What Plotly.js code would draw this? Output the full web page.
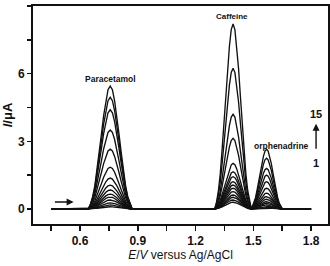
<!DOCTYPE html>
<html><head><meta charset="utf-8">
<script src="https://cdn.plot.ly/plotly-3.0.1.min.js"></script>
<style>html,body{margin:0;padding:0;background:#fff}#chart{width:330px;height:266px}</style>
</head><body><div id="chart"></div>
<script>
// Peak heights (µA) for scans 1..15
const paracetamol = [0.10,0.18,0.27,0.40,0.53,0.66,0.84,1.06,1.37,1.85,2.65,3.50,4.40,4.95,5.45];
const caffeine    = [0.30,0.40,0.52,0.62,0.77,0.92,1.06,1.21,1.43,1.65,2.02,3.13,4.20,6.24,8.20];
const orphenadrine= [0.04,0.08,0.12,0.18,0.25,0.32,0.43,0.55,0.70,0.92,1.21,1.50,1.80,2.25,2.65];
// peak positions (V) and half base widths (V)
const peakNames   = ["Paracetamol","Caffeine","orphenadrine"];
const peakCenters = [0.757, 1.395, 1.569];
const peakHalfW   = [0.114, 0.095, 0.082];
// normalised peak profile
const profOffsets = [-1,-0.9,-0.8,-0.7,-0.6,-0.5,-0.4,-0.3,-0.2,-0.1,0,0.1,0.2,0.3,0.4,0.5,0.6,0.7,0.8,0.9,1];
const profLevels  = [0,0.04,0.10,0.19,0.32,0.46,0.61,0.76,0.88,0.97,1,0.97,0.88,0.76,0.61,0.46,0.32,0.19,0.10,0.04,0];
const scanStart = 0.45, scanEnd = 1.80;
const xTicks = [0.6,0.9,1.2,1.5,1.8];
const yTicks = [0,3,6,9];

const series = [paracetamol, caffeine, orphenadrine];
const traces = [];
for (let i = 0; i < 15; i++) {
  const xs = [scanStart], ys = [0];
  for (let p = 0; p < 3; p++) {
    for (let k = 0; k < profOffsets.length; k++) {
      xs.push(peakCenters[p] + profOffsets[k]*peakHalfW[p]);
      ys.push(series[p][i]*profLevels[k]);
    }
  }
  xs.push(scanEnd); ys.push(0);
  traces.push({x: xs, y: ys, mode: 'lines', line: {color: '#111', width: 1.35}, hoverinfo: 'skip'});
}

const F = 'Liberation Sans, Arial, sans-serif';
const layout = {
  width: 330, height: 266, showlegend: false,
  margin: {l: 33, r: 2, t: 6, b: 42},
  paper_bgcolor: '#fff', plot_bgcolor: '#fff',
  xaxis: {range: [0.356, 1.888], tickvals: xTicks, ticktext: xTicks.map(v => v.toFixed(1)),
    ticks: 'outside', ticklen: 5, tickwidth: 1.5, tickcolor: '#111',
    minor: {tickvals: [0.45,0.75,1.05,1.35,1.65], ticks: 'outside', ticklen: 5, tickwidth: 1.5, tickcolor: '#111'},
    showline: true, linewidth: 2, linecolor: '#111', mirror: true, showgrid: false, zeroline: false,
    tickfont: {family: F, size: 12, color: '#111', weight: 'bold'},
    title: {text: '<i>E</i>/<i>V</i> versus Ag/AgCl', font: {family: F, size: 12, color: '#111'}, standoff: 3}},
  yaxis: {range: [-0.665, 9], tickvals: yTicks,
    ticks: 'outside', ticklen: 4, tickwidth: 1.5, tickcolor: '#111',
    minor: {tickvals: [1.5,4.5,7.5], ticks: 'outside', ticklen: 4, tickwidth: 1.5, tickcolor: '#111'},
    showline: true, linewidth: 2, linecolor: '#111', mirror: true, showgrid: false, zeroline: false,
    tickfont: {family: F, size: 12, color: '#111', weight: 'bold'},
    title: {text: '<b><i>I</i>/μA</b>', font: {family: F, size: 13, color: '#111'}, standoff: 3}},
  annotations: [
    {x: 0.761, y: 5.76, xref: 'x', yref: 'y', text: '<b>' + peakNames[0] + '</b>', showarrow: false, font: {family: F, size: 8.5, color: '#111'}},
    {x: 1.39, y: 8.55, xref: 'x', yref: 'y', text: '<b>' + peakNames[1] + '</b>', showarrow: false, font: {family: F, size: 8, color: '#111'}},
    {x: 1.644, y: 2.79, xref: 'x', yref: 'y', text: '<b>' + peakNames[2] + '</b>', showarrow: false, font: {family: F, size: 8.5, color: '#111'}},
    {x: 1.826, y: 4.2, xref: 'x', yref: 'y', text: '<b>15</b>', showarrow: false, font: {family: F, size: 11, color: '#111'}},
    {x: 1.826, y: 2.05, xref: 'x', yref: 'y', text: '<b>1</b>', showarrow: false, font: {family: F, size: 11, color: '#111'}},
    {x: 1.826, y: 3.78, ax: 1.826, ay: 2.6, xref: 'x', yref: 'y', axref: 'x', ayref: 'y', text: '', showarrow: true, arrowhead: 2, arrowsize: 1, arrowwidth: 1.4, arrowcolor: '#111'},
    {x: 0.567, y: 0.31, ax: 0.462, ay: 0.31, xref: 'x', yref: 'y', axref: 'x', ayref: 'y', text: '', showarrow: true, arrowhead: 2, arrowsize: 1, arrowwidth: 1.4, arrowcolor: '#111'}
  ]
};
Plotly.newPlot('chart', traces, layout, {staticPlot: true, displayModeBar: false});
</script></body></html>
